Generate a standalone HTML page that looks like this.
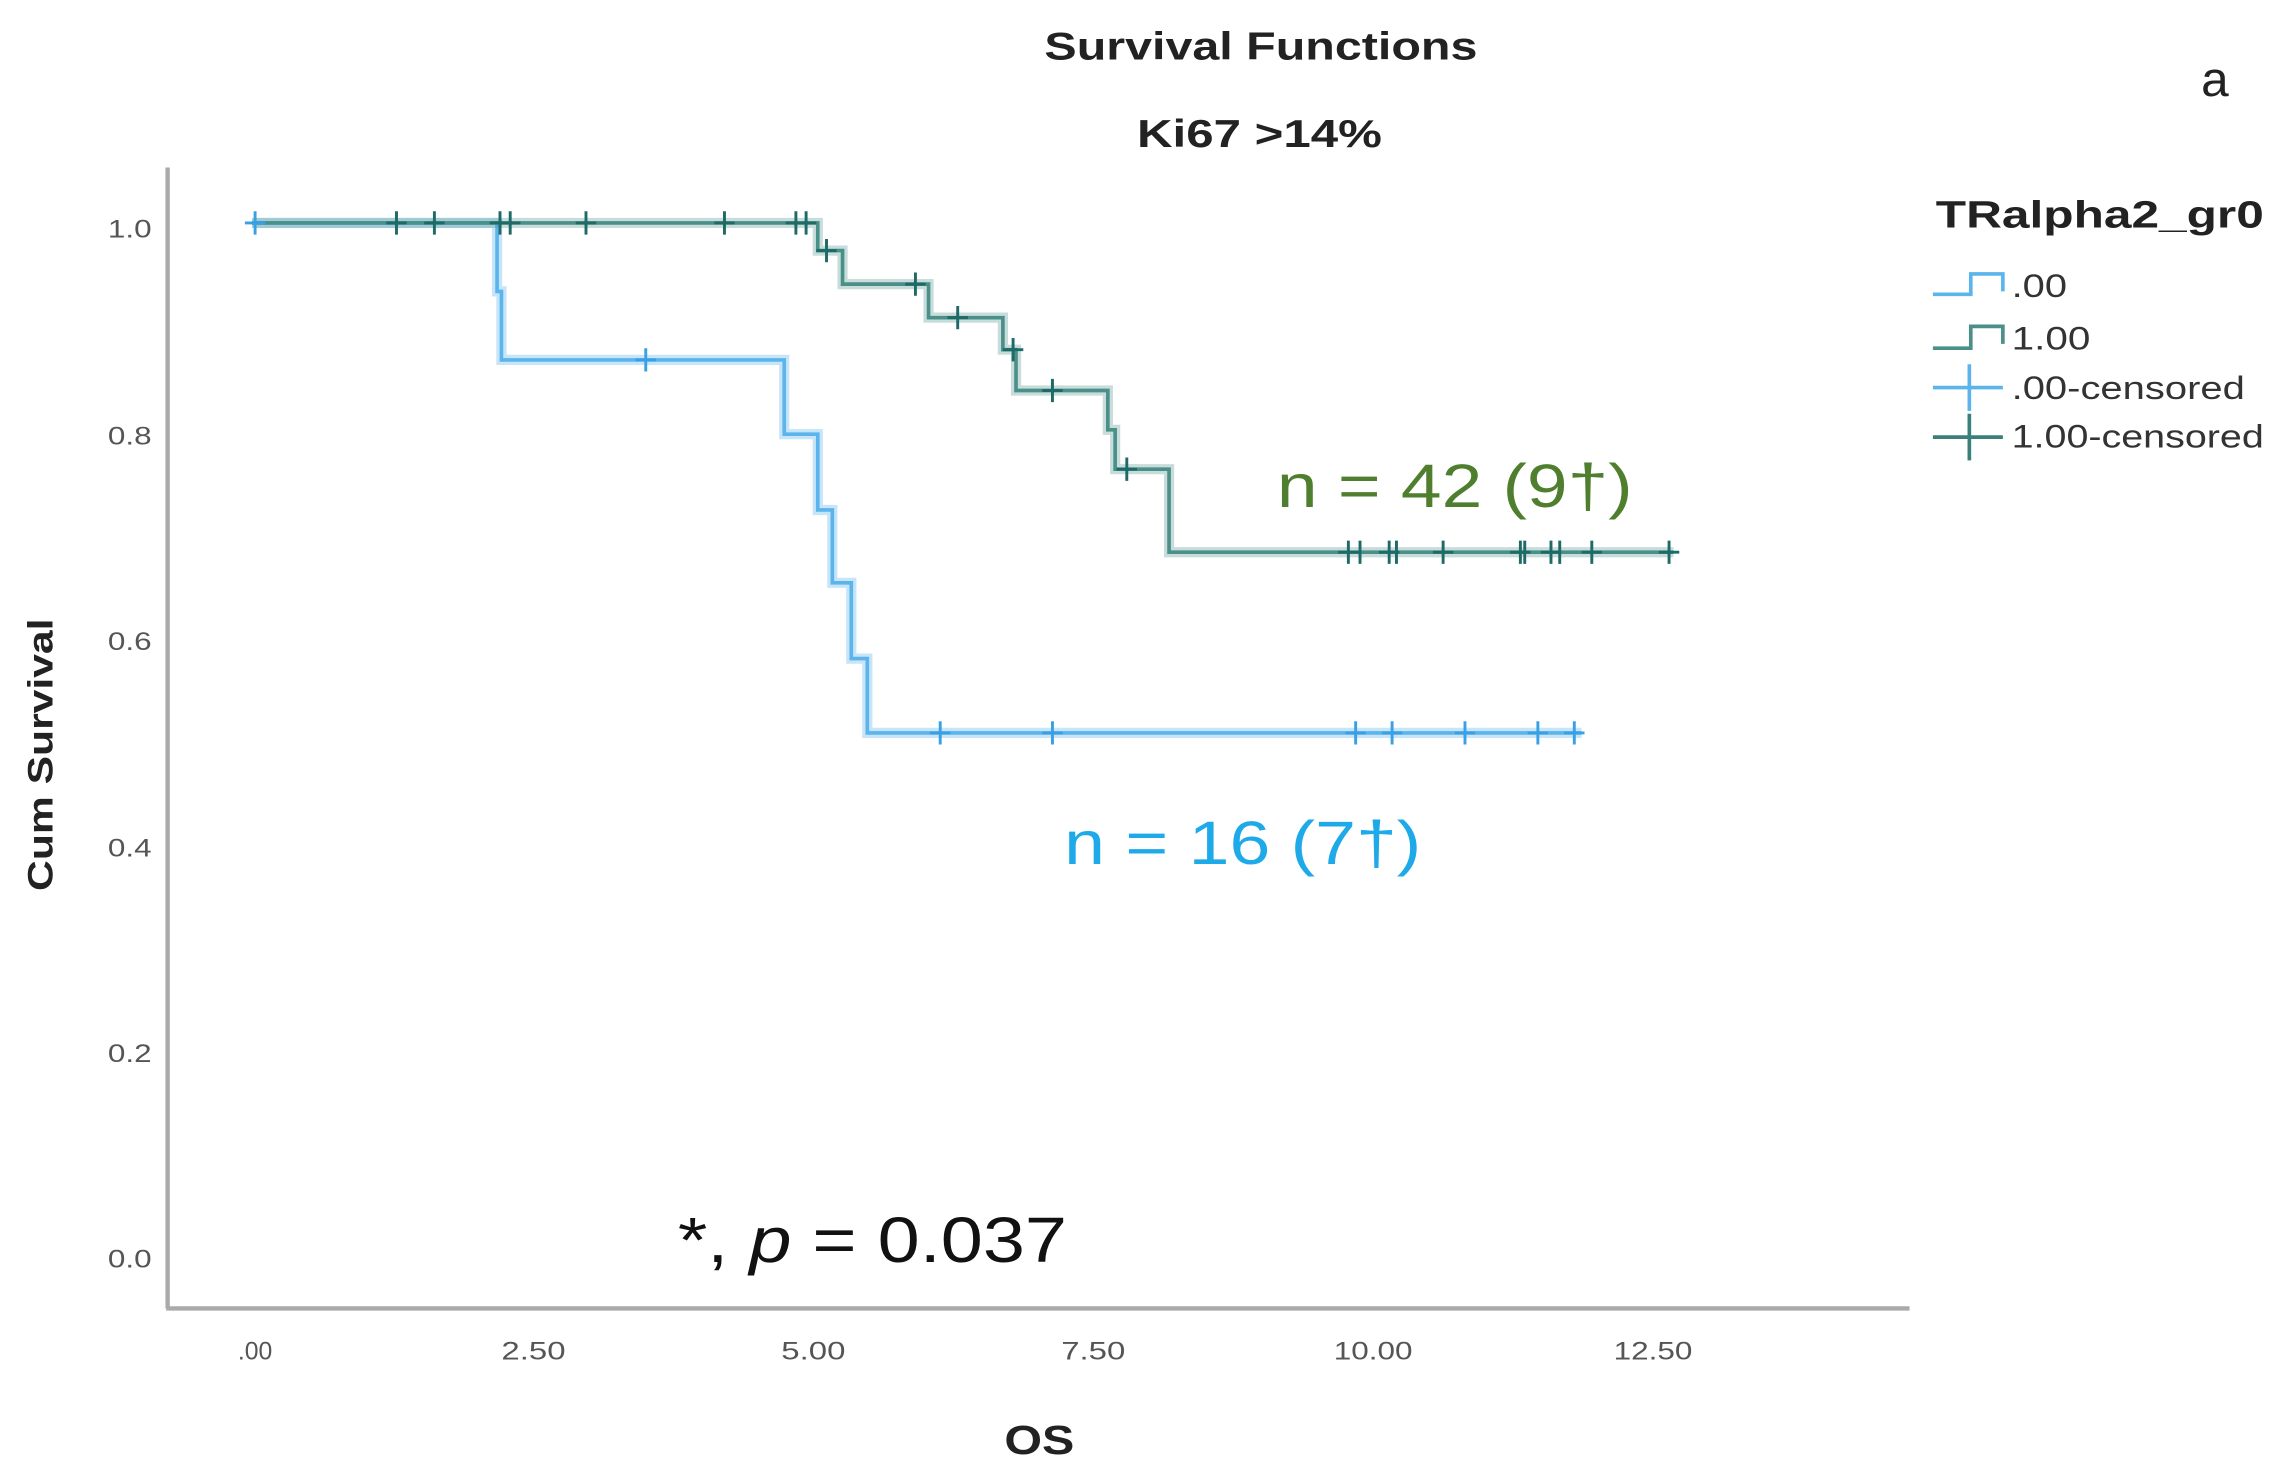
<!DOCTYPE html>
<html><head><meta charset="utf-8"><style>
html,body{margin:0;padding:0;background:#fff;}
svg{display:block;}
text{font-family:"Liberation Sans",sans-serif;}
</style></head><body>
<svg width="2274" height="1476" viewBox="0 0 1560 1013" preserveAspectRatio="none" xmlns="http://www.w3.org/2000/svg">
<rect width="1560" height="1013" fill="#fff"/>
<text x="865" y="41" text-anchor="middle" font-size="27" font-weight="bold" fill="#222" textLength="297" lengthAdjust="spacingAndGlyphs">Survival Functions</text>
<text x="864" y="101" text-anchor="middle" font-size="27" font-weight="bold" fill="#222" textLength="168" lengthAdjust="spacingAndGlyphs">Ki67 &gt;14%</text>
<text x="1510" y="66" font-size="34" fill="#222">a</text>
<!-- axes -->
<line x1="115" y1="115" x2="115" y2="898" stroke="#aaa" stroke-width="3"/>
<line x1="114" y1="898" x2="1310" y2="898" stroke="#aaa" stroke-width="3"/>
<g font-size="17" fill="#555" text-anchor="end">
<text x="104" y="163" textLength="30" lengthAdjust="spacingAndGlyphs">1.0</text>
<text x="104" y="305" textLength="30" lengthAdjust="spacingAndGlyphs">0.8</text>
<text x="104" y="446" textLength="30" lengthAdjust="spacingAndGlyphs">0.6</text>
<text x="104" y="588" textLength="30" lengthAdjust="spacingAndGlyphs">0.4</text>
<text x="104" y="729" textLength="30" lengthAdjust="spacingAndGlyphs">0.2</text>
<text x="104" y="870" textLength="30" lengthAdjust="spacingAndGlyphs">0.0</text>
</g>
<g font-size="17" fill="#555" text-anchor="middle">
<text x="175" y="933">.00</text>
<text x="366" y="933" textLength="44" lengthAdjust="spacingAndGlyphs">2.50</text>
<text x="558" y="933" textLength="44" lengthAdjust="spacingAndGlyphs">5.00</text>
<text x="750" y="933" textLength="44" lengthAdjust="spacingAndGlyphs">7.50</text>
<text x="942" y="933" textLength="54" lengthAdjust="spacingAndGlyphs">10.00</text>
<text x="1134" y="933" textLength="54" lengthAdjust="spacingAndGlyphs">12.50</text>
</g>
<text x="713" y="998" text-anchor="middle" font-size="28" font-weight="bold" fill="#222" textLength="48" lengthAdjust="spacingAndGlyphs">OS</text>
<text transform="translate(36,518) rotate(-90)" text-anchor="middle" font-size="24" font-weight="bold" fill="#222" textLength="187" lengthAdjust="spacingAndGlyphs">Cum Survival</text>
<!-- blue curve -->
<path d="M173,153 H341 V200 H344 V247 H538 V298 H561 V350 H571 V400 H584 V452 H595 V503 H1085" fill="none" stroke="#5bb4ec" stroke-opacity="0.35" stroke-width="7"/>
<path d="M173,153 H341 V200 H344 V247 H538 V298 H561 V350 H571 V400 H584 V452 H595 V503 H1085" fill="none" stroke="#5bb4ec" stroke-width="2.5"/>
<!-- green curve -->
<path d="M173,153 H561 V172 H578 V195 H637 V218 H688 V240 H697 V268 H760 V295 H765 V322 H802 V379 H1148" fill="none" stroke="#4a8f88" stroke-opacity="0.3" stroke-width="7"/>
<path d="M173,153 H561 V172 H578 V195 H637 V218 H688 V240 H697 V268 H760 V295 H765 V322 H802 V379 H1148" fill="none" stroke="#4a8f88" stroke-width="2.5"/>
<!-- blue censors -->
<g stroke="#3aa0e6" stroke-width="2">
<path d="M175,145v16 M443,239v16 M645,495v16 M722,495v16 M930,495v16 M955,495v16 M1005,495v16 M1055,495v16 M1080,495v16"/>
<path d="M168,153h14 M436,247h14 M638,503h14 M715,503h14 M923,503h14 M948,503h14 M998,503h14 M1048,503h14 M1073,503h14"/>
</g>
<!-- green censors -->
<g stroke="#1d6a66" stroke-width="2">
<path d="M272,145v16 M298,145v16 M343,145v16 M350,145v16 M402,145v16 M497,145v16 M546,145v16 M553,145v16 M567,164v16 M628,187v16 M657,210v16 M695,232v16 M722,260v16 M773,314v16 M925,371v16 M933,371v16 M953,371v16 M958,371v16 M990,371v16 M1043,371v16 M1046,371v16 M1064,371v16 M1070,371v16 M1092,371v16 M1145,371v16"/>
<path d="M265,153h14 M291,153h14 M336,153h14 M343,153h14 M395,153h14 M490,153h14 M539,153h14 M546,153h14 M560,172h14 M621,195h14 M650,218h14 M688,240h14 M715,268h14 M766,322h14 M918,379h14 M946,379h14 M983,379h14 M1036,379h14 M1057,379h14 M1085,379h14 M1138,379h14"/>
</g>
<!-- annotations -->
<text x="876" y="348" font-size="42" fill="#4f7f2e" textLength="244" lengthAdjust="spacingAndGlyphs">n = 42 (9†)</text>
<text x="730" y="593" font-size="42" fill="#1eaae8" textLength="245" lengthAdjust="spacingAndGlyphs">n = 16 (7†)</text>
<text x="465" y="866" font-size="44" fill="#111" textLength="267" lengthAdjust="spacingAndGlyphs">*, <tspan font-style="italic">p</tspan> = 0.037</text>
<!-- legend -->
<text x="1328" y="156" font-size="26" font-weight="bold" fill="#222" textLength="225" lengthAdjust="spacingAndGlyphs">TRalpha2_gr0</text>
<path d="M1326,202 H1352 V188 H1374 V200" fill="none" stroke="#5bb4ec" stroke-width="2.5"/>
<path d="M1326,239 H1352 V224 H1374 V236" fill="none" stroke="#4a8f88" stroke-width="2.5"/>
<path d="M1326,266 H1374 M1351,250 V282" stroke="#5bb4ec" stroke-width="2.5"/>
<path d="M1326,300 H1374 M1351,284 V316" stroke="#3a7f7a" stroke-width="2.5"/>
<g font-size="22" fill="#333">
<text x="1380" y="204" textLength="38" lengthAdjust="spacingAndGlyphs">.00</text>
<text x="1380" y="240" textLength="54" lengthAdjust="spacingAndGlyphs">1.00</text>
<text x="1380" y="274" textLength="160" lengthAdjust="spacingAndGlyphs">.00-censored</text>
<text x="1380" y="307" textLength="173" lengthAdjust="spacingAndGlyphs">1.00-censored</text>
</g>
</svg>
</body></html>
